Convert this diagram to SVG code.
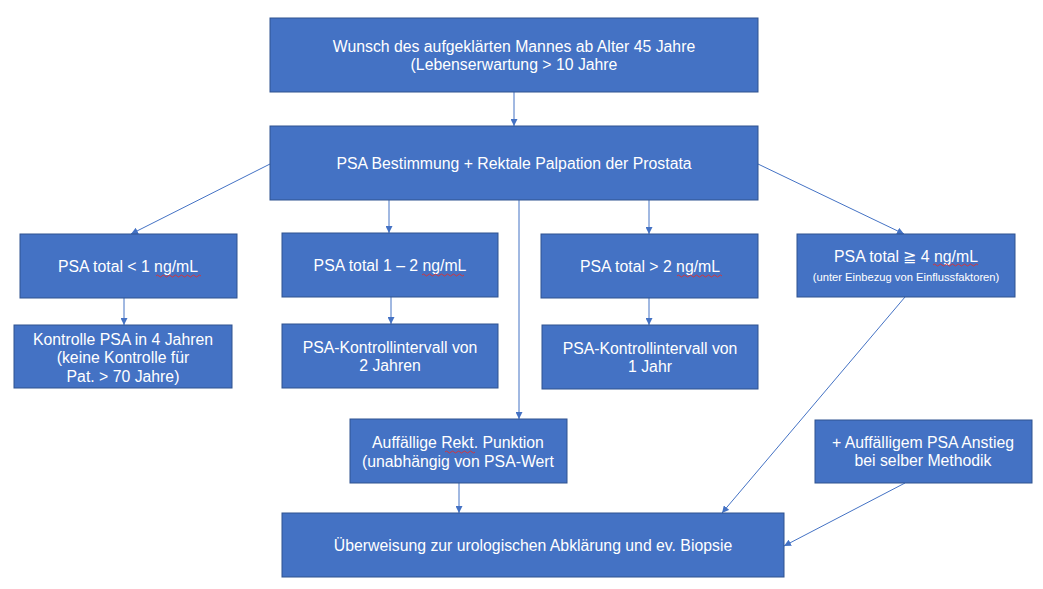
<svg xmlns="http://www.w3.org/2000/svg" width="1043" height="589" viewBox="0 0 1043 589">
<style>
.box{fill:#4472C4;stroke:#2F528F;stroke-width:1}
.t{fill:#fff;font-family:"Liberation Sans",Arial,sans-serif;font-size:15.8px;text-anchor:middle}
.s{font-size:11.2px}
.c{stroke:#4472C4;stroke-width:1;fill:none;marker-end:url(#a)}
.sq{stroke:#e03030;stroke-width:0.9;fill:none}
</style>
<defs>
<marker id="a" viewBox="0 0 10 10" refX="10" refY="5" markerWidth="7" markerHeight="7" markerUnits="userSpaceOnUse" orient="auto">
<path d="M0,0 L10,5 L0,10 z" fill="#4472C4"/>
</marker>
</defs>
<rect width="1043" height="589" fill="#fff"/>
<g id="connectors">
<line class="c" x1="514" y1="92" x2="514" y2="126"/>
<line class="c" x1="270" y1="164" x2="131" y2="234"/>
<line class="c" x1="389" y1="200" x2="389" y2="233"/>
<line class="c" x1="519" y1="200" x2="519" y2="419"/>
<line class="c" x1="649" y1="200" x2="649" y2="234"/>
<line class="c" x1="758" y1="164" x2="904" y2="234"/>
<line class="c" x1="124" y1="298" x2="124" y2="325"/>
<line class="c" x1="391" y1="297" x2="391" y2="324"/>
<line class="c" x1="649" y1="298" x2="649" y2="325"/>
<line class="c" x1="905" y1="297" x2="722" y2="513"/>
<line class="c" x1="459" y1="483" x2="459" y2="513"/>
<line class="c" x1="905" y1="483" x2="784" y2="546"/>
</g>
<g id="n1"><rect class="box" x="270" y="18" width="488" height="74"/>
<text class="t" x="514" y="52">Wunsch des aufgeklärten Mannes ab Alter 45 Jahre</text>
<text class="t" x="514" y="70">(Lebenserwartung &gt; 10 Jahre</text></g>
<g id="n2"><rect class="box" x="270" y="126" width="488" height="74"/>
<text class="t" x="514" y="169">PSA Bestimmung + Rektale Palpation der Prostata</text></g>
<g id="nA"><rect class="box" x="20" y="234" width="217" height="64"/>
<text class="t" x="128" y="272">PSA total &lt; 1 ng/mL</text>
<path class="sq" d="M156,276 q1.5,-2 3,0 t3,0 t3,0 t3,0 t3,0 t3,0 t3,0 t3,0 t3,0 t3,0 t3,0 t3,0 t3,0 t3,0 t3,0"/></g>
<g id="nB"><rect class="box" x="282" y="233" width="216" height="64"/>
<text class="t" x="390" y="271">PSA total 1 – 2 ng/mL</text>
<path class="sq" d="M422,275 q1.5,-2 3,0 t3,0 t3,0 t3,0 t3,0 t3,0 t3,0 t3,0 t3,0 t3,0 t3,0 t3,0 t3,0 t3,0"/></g>
<g id="nC"><rect class="box" x="541" y="234" width="217" height="64"/>
<text class="t" x="650" y="272">PSA total &gt; 2 ng/mL</text>
<path class="sq" d="M677,276 q1.5,-2 3,0 t3,0 t3,0 t3,0 t3,0 t3,0 t3,0 t3,0 t3,0 t3,0 t3,0 t3,0 t3,0 t3,0 t3,0"/></g>
<g id="nD"><rect class="box" x="797" y="234" width="218" height="63"/>
<text class="t" x="906" y="262">PSA total ≧ 4 ng/mL</text>
<text class="t s" x="906" y="281">(unter Einbezug von Einflussfaktoren)</text>
<path class="sq" d="M933,265 q1.5,-2 3,0 t3,0 t3,0 t3,0 t3,0 t3,0 t3,0 t3,0 t3,0 t3,0 t3,0 t3,0 t3,0 t3,0 t3,0"/></g>
<g id="nA2"><rect class="box" x="14" y="325" width="218" height="63"/>
<text class="t" x="123" y="345">Kontrolle PSA in 4 Jahren</text>
<text class="t" x="123" y="363">(keine Kontrolle für</text>
<text class="t" x="123" y="382">Pat. &gt; 70 Jahre)</text></g>
<g id="nB2"><rect class="box" x="282" y="324" width="216" height="64"/>
<text class="t" x="390" y="353">PSA-Kontrollintervall von</text>
<text class="t" x="390" y="371">2 Jahren</text></g>
<g id="nC2"><rect class="box" x="542" y="325" width="216" height="64"/>
<text class="t" x="650" y="354">PSA-Kontrollintervall von</text>
<text class="t" x="650" y="372">1 Jahr</text></g>
<g id="nE"><rect class="box" x="350" y="419" width="217" height="64"/>
<text class="t" x="458" y="448">Auffällige Rekt. Punktion</text>
<text class="t" x="458" y="467">(unabhängig von PSA-Wert</text>
<path class="sq" d="M445,452 q1.5,-2 3,0 t3,0 t3,0 t3,0 t3,0 t3,0 t3,0 t3,0 t3,0 t3,0"/></g>
<g id="nF"><rect class="box" x="815" y="420" width="217" height="63"/>
<text class="t" x="923" y="448">+ Auffälligem PSA Anstieg</text>
<text class="t" x="923" y="466">bei selber Methodik</text></g>
<g id="nG"><rect class="box" x="282" y="513" width="502" height="64"/>
<text class="t" x="533" y="551">Überweisung zur urologischen Abklärung und ev. Biopsie</text></g>
</svg>
